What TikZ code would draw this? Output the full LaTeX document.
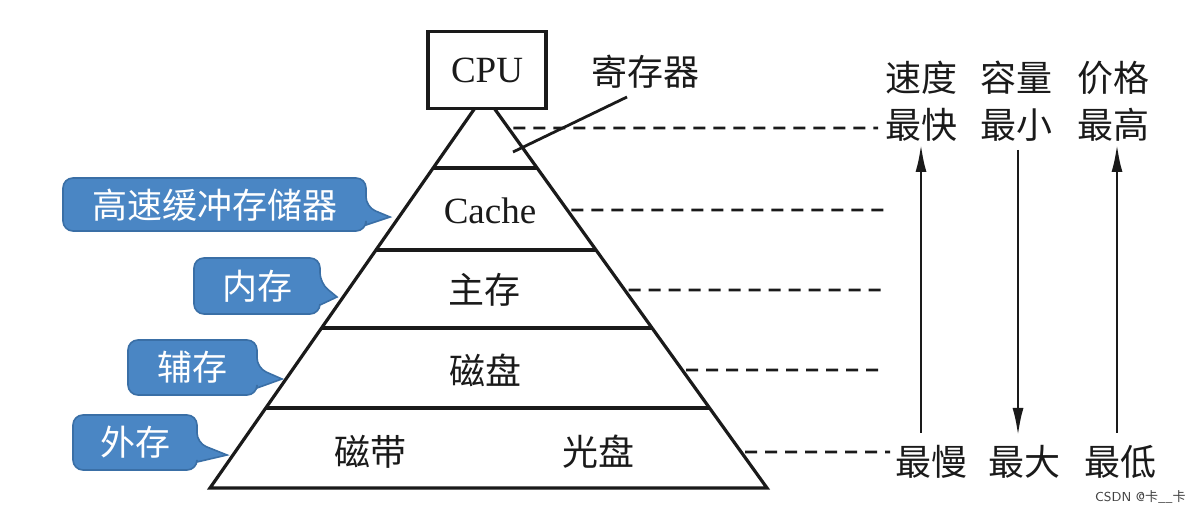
\documentclass[tikz,border=0pt]{standalone}
\usepackage{fontspec}
\setmainfont{Liberation Serif}
\newfontfamily\cjk{Noto Sans CJK SC}
\usetikzlibrary{arrows.meta,calc}
\definecolor{bubblefill}{HTML}{4A86C4}
\definecolor{bubbleedge}{HTML}{3A6FA6}
\definecolor{ink}{HTML}{1A1A1A}
\begin{document}
\begin{tikzpicture}[x=0.5pt,y=-0.5pt,
  pyr/.style={line width=1.6pt, draw=ink},
  guide/.style={line width=1.4pt, draw=ink, dash pattern=on 6pt off 4pt},
  lbl/.style={font=\cjk\fontsize{18}{20}\selectfont, text=ink, inner sep=0pt},
  latin/.style={font=\fontsize{18.5}{20}\selectfont, text=ink, inner sep=0pt},
  bubble/.style={fill=bubblefill, draw=bubbleedge, line width=0.8pt},
  bubbletext/.style={font=\cjk\fontsize{17.5}{20}\selectfont, text=white, inner sep=0pt},
  trend/.style={line width=1.4pt, draw=ink, -{Latex[length=14pt,width=5.5pt]}},
  creditstyle/.style={font=\sffamily\fontsize{6.5}{8}\selectfont, text=black!75, inner sep=0pt},
]
\fill[white] (0,0) rectangle (1200,512);
\useasboundingbox (0,0) rectangle (1200,512);

% CPU box on top of the pyramid
\node[draw=ink, line width=1.6pt, minimum width=59pt, minimum height=38.5pt,
      inner sep=0pt, latin] (cpu) at (487,70) {CPU};

% pyramid outline
\coordinate (tl) at (475,108);
\coordinate (tr) at (494,108);
\coordinate (bl) at (210,488);
\coordinate (br) at (767,488);
\draw[pyr] (tl) -- (bl) -- (br) -- (tr);
\foreach \t in {0.1579,0.3737,0.5789,0.7895}
  \draw[pyr] ($(tl)!\t!(bl)$) -- ($(tr)!\t!(br)$);

% level labels
\node[latin] (cache) at (490,211) {Cache};
\node[lbl] (main) at (484,290) {主存};
\node[lbl] (disk) at (485,370) {磁盘};
\node[lbl] (tape) at (370,452) {磁带};
\node[lbl] (optical) at (598,452) {光盘};

% register label and its leader
\node[lbl] (reg) at (645,72) {寄存器};
\coordinate (regtip) at (513,152);
\coordinate (regend) at (627,97);
\draw[pyr, line width=1.4pt] (regtip) -- (regend);

% dashed guides from each level to the right-hand scale
\coordinate (g1s) at ($(tr)!0.0526!(br)+(5,0)$);  \coordinate (g1e) at (878,128);
\coordinate (g2s) at ($(tr)!0.2684!(br)+(4,0)$);  \coordinate (g2e) at (888,210);
\coordinate (g3s) at ($(tr)!0.4789!(br)+(4,0)$);  \coordinate (g3e) at (888,290);
\coordinate (g4s) at ($(tr)!0.6895!(br)+(4,0)$);  \coordinate (g4e) at (884,370);
\coordinate (g5s) at ($(tr)!0.9053!(br)+(4,0)$);  \coordinate (g5e) at (890,452);
\foreach \i in {1,...,5}
  \draw[guide] (g\i s) -- (g\i e);

% right-hand scale
\node[lbl] (speed) at (921,78) {速度};
\node[lbl] (fast) at (921,125) {最快};
\node[lbl] (slow) at (931,462) {最慢};
\node[lbl] (cap) at (1016,78) {容量};
\node[lbl] (small) at (1016,125) {最小};
\node[lbl] (large) at (1024,462) {最大};
\node[lbl] (price) at (1113,78) {价格};
\node[lbl] (high) at (1113,125) {最高};
\node[lbl] (low) at (1120,462) {最低};

\coordinate (s0) at (921,433);  \coordinate (s1) at (921,144);
\coordinate (c0) at (1018,150); \coordinate (c1) at (1018,436);
\coordinate (p0) at (1117,433); \coordinate (p1) at (1117,144);
\draw[trend] (s0) -- (s1);
\draw[trend] (c0) -- (c1);
\draw[trend] (p0) -- (p1);

% callouts
\draw[bubble, rounded corners=5pt] (366,225) -- (366,231) -- (63,231) -- (63,178) -- (366,178) -- (366,207)
  [sharp corners] -- (390,217) -- cycle;
\node[bubbletext] (cachetag) at (215,205) {高速缓冲存储器};

\draw[bubble, rounded corners=5pt] (320,305) -- (320,314) -- (194,314) -- (194,258) -- (320,258) -- (320,283)
  [sharp corners] -- (337,297) -- cycle;
\node[bubbletext] (maintag) at (257,286) {内存};

\draw[bubble, rounded corners=5pt] (257,388) -- (257,395) -- (128,395) -- (128,340) -- (257,340) -- (257,368)
  [sharp corners] -- (282,379) -- cycle;
\node[bubbletext] (auxtag) at (192,367) {辅存};

\draw[bubble, rounded corners=5pt] (197,462) -- (197,470) -- (73,470) -- (73,415) -- (197,415) -- (197,443)
  [sharp corners] -- (227,455) -- cycle;
\node[bubbletext] (exttag) at (135,442) {外存};

% corner credit
\node[creditstyle, anchor=east] (credit) at (1186,497) {CSDN @{\cjk 卡\_\_卡}};
\end{tikzpicture}
\end{document}
